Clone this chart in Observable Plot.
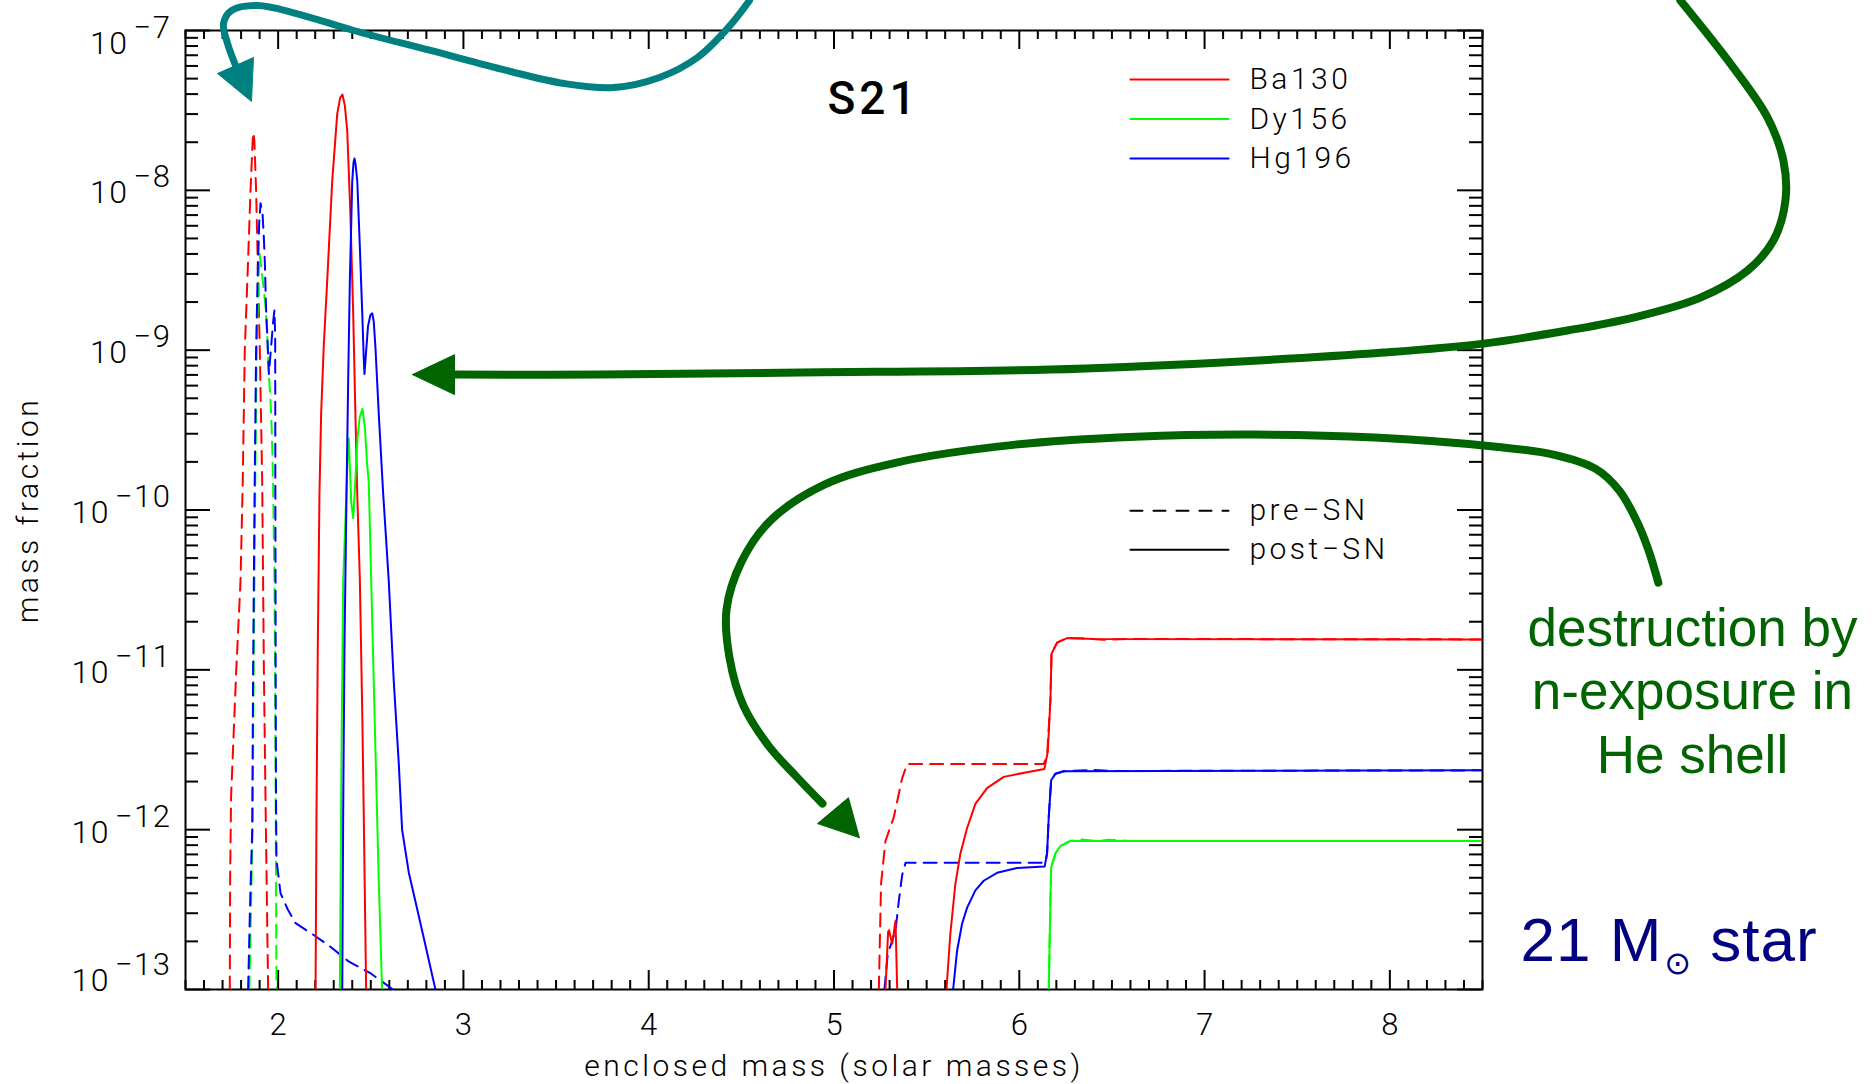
<!DOCTYPE html>
<html>
<head>
<meta charset="utf-8">
<script src="https://cdn.jsdelivr.net/npm/d3@7"></script>
<script src="https://cdn.jsdelivr.net/npm/@observablehq/plot@0.6"></script>
<style>
  html, body { margin: 0; padding: 0; background: #ffffff; }
  #chart { width: 1873px; height: 1084px; }
  text[aria-label="axis-title"], text[aria-label="legend-text"] { letter-spacing: 3.5px; }
  text[aria-label="plot-title"] { letter-spacing: 4px; }
  text[aria-label="ytl"] { letter-spacing: 1.5px; }
  text[aria-label="star-label"] { letter-spacing: 1px; }
</style>
</head>
<body>
<div id="chart"></div>
<script>
// ---------------- DATA ----------------
const xMajorTicks = [2, 3, 4, 5, 6, 7, 8];
const yExponents = [-7, -8, -9, -10, -11, -12, -13];
const isotopes = ["Ba130", "Dy156", "Hg196"];
const phases = ["pre-SN", "post-SN"];

// each series: list of segments, each segment: [enclosed mass, mass fraction]
const ba130Pre = [
  [[1.739,1e-13],[1.741,5.0e-13],[1.746,1.6e-12],[1.760,4.0e-12],[1.774,1.0e-11],[1.797,3.6e-11],
   [1.809,1.5e-10],[1.820,1.0e-9],[1.836,3.2e-9],[1.851,1.0e-8],[1.862,2.0e-8],[1.867,2.3e-8],
   [1.872,2.0e-8],[1.881,1.0e-8],[1.891,3.2e-9],[1.901,1.0e-9],[1.914,1.5e-10],[1.923,1.0e-11],
   [1.934,1.0e-12],[1.946,1e-13]],
  [[5.242,1e-13],[5.254,4.6e-13],[5.278,8.5e-13],[5.323,1.2e-12],[5.368,2.1e-12],[5.395,2.58e-12],
   [6.132,2.58e-12],[6.150,2.9e-12],[6.168,6.5e-12],[6.174,1.26e-11],[6.204,1.48e-11],[6.258,1.58e-11],
   [6.35,1.57e-11],[6.45,1.54e-11],[6.60,1.56e-11],[8.5,1.55e-11]]
];
const ba130Post = [
  [[2.202,1e-13],[2.207,1.26e-12],[2.214,1.38e-11],[2.223,1.26e-10],[2.232,3.98e-10],[2.246,1.05e-9],
   [2.265,2.75e-9],[2.292,1.15e-8],[2.319,3.02e-8],[2.335,3.8e-8],[2.347,3.98e-8],[2.360,3.39e-8],
   [2.373,2.34e-8],[2.390,7.08e-9],[2.405,1.7e-9],[2.417,3.98e-10],[2.427,1.26e-10],[2.441,3.63e-11],
   [2.454,5.37e-12],[2.462,1.26e-12],[2.475,1e-13]],
  [[5.278,1e-13],[5.292,2.3e-13],[5.297,2.35e-13],[5.314,1.93e-13],[5.332,2.69e-13],[5.341,1e-13]],
  [[5.607,1e-13],[5.628,2.24e-13],[5.655,4.57e-13],[5.682,7.08e-13],[5.718,1.02e-12],[5.763,1.45e-12],
   [5.826,1.82e-12],[5.916,2.14e-12],[6.042,2.29e-12],[6.136,2.4e-12],[6.154,3.09e-12],[6.168,6.46e-12],
   [6.174,1.26e-11],[6.204,1.48e-11],[6.258,1.58e-11],[6.40,1.56e-11],[8.5,1.55e-11]]
];
const dy156Pre = [
  [[1.845,1e-13],[1.862,1e-12],[1.868,1e-11],[1.875,1e-10],[1.884,1e-9],[1.893,2.5e-9],[1.900,4.0e-9],
   [1.905,3.6e-9],[1.919,2.6e-9],[1.932,1.86e-9],[1.941,1.26e-9],[1.950,7.1e-10],[1.959,4.8e-10],
   [1.964,3.5e-10],[1.968,2.5e-10],[1.973,1.4e-10],[1.980,3.6e-11],[1.984,8.5e-12],[1.987,1.26e-12],
   [1.991,1e-13]],
  [[6.159,1e-13],[6.168,3.6e-13],[6.172,5.8e-13],[6.195,7.1e-13],[6.222,7.9e-13],[6.276,8.5e-13],
   [6.33,8.7e-13],[6.42,8.5e-13],[6.48,8.65e-13],[6.60,8.5e-13],[8.5,8.5e-13]]
];
const dy156Post = [
  [[2.333,1e-13],[2.338,6.3e-13],[2.342,3.2e-12],[2.351,3.6e-11],[2.368,1.26e-10],[2.377,2.5e-10],
   [2.381,2.8e-10],[2.386,2.0e-10],[2.395,1.1e-10],[2.405,8.9e-11],[2.415,1.4e-10],[2.428,2.8e-10],
   [2.440,3.8e-10],[2.455,4.3e-10],[2.468,3.3e-10],[2.480,1.95e-10],[2.489,1.5e-10],[2.507,2.2e-11],
   [2.525,3.2e-12],[2.543,4.8e-13],[2.561,1e-13]],
  [[6.159,1e-13],[6.168,3.6e-13],[6.172,5.8e-13],[6.195,7.1e-13],[6.222,7.9e-13],[6.276,8.5e-13],[8.5,8.5e-13]]
];
const hg196Pre = [
  [[1.838,1e-13],[1.848,3.2e-13],[1.860,1e-12],[1.865,1e-11],[1.872,1e-10],[1.881,1e-9],[1.890,3.2e-9],
   [1.898,6.3e-9],[1.905,8.3e-9],[1.916,7.1e-9],[1.923,5.0e-9],[1.928,3.6e-9],[1.935,1.8e-9],
   [1.941,1.26e-9],[1.950,7.1e-10],[1.962,1.05e-9],[1.973,1.5e-9],[1.980,1.78e-9],[1.984,1.26e-9],
   [1.985,1.26e-10],[1.986,3.6e-11],[1.987,5.4e-12],[1.989,1.26e-12],[1.991,6.5e-13],[2.013,4.0e-13],
   [2.05,3.2e-13],[2.094,2.6e-13],[2.19,2.2e-13],[2.28,1.86e-13],[2.38,1.5e-13],[2.50,1.26e-13],[2.62,1e-13]],
  [[5.272,1e-13],[5.290,1.66e-13],[5.332,2.34e-13],[5.350,3.6e-13],[5.368,5.2e-13],[5.386,6.2e-13],
   [6.141,6.2e-13],[6.150,7.1e-13],[6.159,1.2e-12],[6.172,2.04e-12],[6.195,2.24e-12],[6.24,2.32e-12],
   [6.40,2.36e-12],[6.50,2.33e-12],[8.5,2.35e-12]]
];
const hg196Post = [
  [[2.346,1e-13],[2.351,1.26e-12],[2.358,1.38e-11],[2.369,1.26e-10],[2.378,6.5e-10],[2.387,2.75e-9],
   [2.400,1.15e-8],[2.407,1.5e-8],[2.412,1.58e-8],[2.418,1.45e-8],[2.427,1.15e-8],[2.441,4.4e-9],
   [2.454,1.7e-9],[2.462,8.9e-10],[2.466,7.1e-10],[2.472,8.9e-10],[2.485,1.41e-9],[2.498,1.66e-9],
   [2.508,1.7e-9],[2.516,1.51e-9],[2.525,1.05e-9],[2.543,4.0e-10],[2.567,1.26e-10],[2.597,3.6e-11],
   [2.624,8.5e-12],[2.651,2.6e-12],[2.669,1.0e-12],[2.705,5.4e-13],[2.768,2.6e-13],[2.849,1e-13]],
  [[5.643,1e-13],[5.664,1.74e-13],[5.691,2.57e-13],[5.718,3.24e-13],[5.763,4.17e-13],[5.808,4.79e-13],
   [5.880,5.37e-13],[5.988,5.75e-13],[6.137,5.89e-13],[6.150,7.1e-13],[6.159,1.2e-12],[6.172,2.04e-12],
   [6.195,2.24e-12],[6.24,2.32e-12],[8.5,2.35e-12]]
];

// annotation paths, in data units: [enclosed mass, log10 mass fraction]
const tealArrowPath = [[4.544,-6.812],[4.430,-6.981],[4.263,-7.169],[4.058,-7.294],[3.810,-7.357],[3.545,-7.332],
  [3.232,-7.250],[2.822,-7.125],[2.407,-7.000],[2.099,-6.894],[1.889,-6.844],[1.748,-6.875],[1.705,-6.956],
  [1.727,-7.081],[1.775,-7.232]];
const tealArrowHead = [[1.673,-7.269],[1.867,-7.169],[1.856,-7.444],[1.673,-7.269]];
const greenArrowPath1 = [[9.568,-6.812],[9.854,-7.232],[10.038,-7.544],[10.124,-7.814],[10.135,-8.064],
  [10.070,-8.314],[9.930,-8.502],[9.676,-8.671],[9.314,-8.796],[8.958,-8.877],[8.505,-8.959],[7.966,-9.015],
  [7.069,-9.078],[6.168,-9.121],[4.819,-9.140],[3.740,-9.153],[2.952,-9.153]];
const greenArrowHead1 = [[2.725,-9.153],[2.952,-9.028],[2.952,-9.278],[2.725,-9.153]];
const greenArrowPath2 = [[9.449,-10.454],[9.395,-10.248],[9.331,-10.066],[9.239,-9.879],[9.109,-9.741],
  [8.883,-9.653],[8.559,-9.603],[7.917,-9.547],[7.269,-9.528],[6.627,-9.541],[5.979,-9.591],[5.337,-9.703],
  [4.948,-9.841],[4.657,-10.066],[4.501,-10.323],[4.420,-10.623],[4.436,-10.924],[4.511,-11.224],
  [4.646,-11.474],[4.792,-11.662],[4.938,-11.837]];
const greenArrowHead2 = [[5.137,-12.050],[4.911,-11.962],[5.078,-11.800],[5.137,-12.050]];

// ---------------- STYLE / LAYOUT ----------------
const colors = {Ba130: "#ff0000", Dy156: "#00ff00", Hg196: "#0000ff"};
const W = 1873, H = 1084;
const M = {left: 185, right: 391, top: 30, bottom: 95};
const FW = W - M.left - M.right, FH = H - M.top - M.bottom;
const FONT = "Roboto, 'Liberation Sans', Arial, sans-serif";
const DASH = "13,8";

const seriesList = [
  {iso: "Ba130", pre: ba130Pre, post: ba130Post},
  {iso: "Dy156", pre: dy156Pre, post: dy156Post},
  {iso: "Hg196", pre: hg196Pre, post: hg196Post}
];
const toRows = segs => segs.flatMap((seg, i) => seg.map(([x, v]) => ({x, v, seg: i})));
const logPts = pts => pts.map(([x, l]) => ({x, v: Math.pow(10, l)}));
const tag = name => () => name;   // per-element aria-label, used for styling/post-processing

const yMajorVals = yExponents.map(e => Math.pow(10, e));
const yMinorVals = d3.range(-13, -7).flatMap(e => d3.range(2, 10).map(m => m * Math.pow(10, e)));
const xMinorVals = d3.range(15, 86).map(d => d / 10).filter(d => Math.abs(d - Math.round(d)) > 1e-9);

const tick = (o) => ({stroke: "black", strokeWidth: 2, ...o});

const dataMarks = [];
for (const s of seriesList) {
  dataMarks.push(Plot.line(toRows(s.pre), {x: "x", y: "v", z: "seg", stroke: colors[s.iso], strokeWidth: 2, strokeDasharray: DASH, clip: true}));
}
for (const s of seriesList) {
  dataMarks.push(Plot.line(toRows(s.post), {x: "x", y: "v", z: "seg", stroke: colors[s.iso], strokeWidth: 2, clip: true}));
}

// legend (placed in data coordinates inside the frame)
const legendX = [6.600, 7.129], legendTextX = 7.242;
const legendIsoY = [4.93e-8, 2.79e-8, 1.58e-8];
const legendPhaseY = [9.9e-11, 5.65e-11];
const legendMarks = [];
isotopes.forEach((iso, i) => {
  legendMarks.push(Plot.line(legendX.map(x => ({x, v: legendIsoY[i]})), {x: "x", y: "v", stroke: colors[iso], strokeWidth: 2}));
});
phases.forEach((p, i) => {
  legendMarks.push(Plot.line(legendX.map(x => ({x, v: legendPhaseY[i]})), {x: "x", y: "v", stroke: "black", strokeWidth: 2, strokeDasharray: p === "pre-SN" ? "12,11" : null}));
});
const legendLabels = [
  ...isotopes.map((iso, i) => ({x: legendTextX, v: legendIsoY[i], t: iso})),
  ...phases.map((p, i) => ({x: legendTextX, v: legendPhaseY[i], t: p.replace("-", "\u2212")}))
];

const yLabelRows = yExponents.map(e => ({v: Math.pow(10, e), t: "\u2212" + (-e), e}));
const yLab = {y: "v", text: "t", frameAnchor: "left", dx: -14, textAnchor: "end", lineAnchor: "bottom", fontSize: 32, fontWeight: 300, ariaLabel: tag("ytl")};

const plot = Plot.plot({
  width: W, height: H,
  marginLeft: M.left, marginRight: M.right, marginTop: M.top, marginBottom: M.bottom,
  x: {domain: [1.5, 8.5], axis: null},
  y: {type: "log", domain: [1e-13, 1e-7], axis: null},
  style: {fontFamily: FONT, background: "#ffffff", color: "black", overflow: "visible"},
  marks: [
    // ticks (inward, on all four sides)
    Plot.ruleY(yMajorVals, tick({insetRight: FW - 25})),
    Plot.ruleY(yMajorVals, tick({insetLeft: FW - 25})),
    Plot.ruleY(yMinorVals, tick({insetRight: FW - 13})),
    Plot.ruleY(yMinorVals, tick({insetLeft: FW - 13})),
    Plot.ruleX(xMajorTicks, tick({insetTop: FH - 19})),
    Plot.ruleX(xMajorTicks, tick({insetBottom: FH - 19})),
    Plot.ruleX(xMinorVals, tick({insetTop: FH - 9})),
    Plot.ruleX(xMinorVals, tick({insetBottom: FH - 9})),
    Plot.frame({stroke: "black", strokeWidth: 2}),

    // tick labels
    Plot.text(xMajorTicks, {x: d => d, frameAnchor: "bottom", dy: 36, text: d => String(d), fontSize: 31, fontWeight: 300, lineAnchor: "middle", textAnchor: "middle"}),
    Plot.text(yLabelRows.filter(d => d.e === -7), {...yLab, dy: 23}),
    Plot.text(yLabelRows.filter(d => d.e < -7 && d.e > -13), {...yLab, dy: 13}),
    Plot.text(yLabelRows.filter(d => d.e === -13), {...yLab, dy: 1}),

    // axis titles
    Plot.text(["enclosed mass (solar masses)"], {frameAnchor: "bottom", dy: 77, fontSize: 30, fontWeight: 300, lineAnchor: "middle", textAnchor: "middle", ariaLabel: tag("axis-title")}),
    Plot.text(["mass fraction"], {frameAnchor: "left", dx: -157, rotate: -90, fontSize: 30, fontWeight: 300, lineAnchor: "middle", textAnchor: "middle", ariaLabel: tag("axis-title")}),

    // data
    ...dataMarks,

    // legend + title
    ...legendMarks,
    Plot.text(legendLabels, {x: "x", y: "v", text: "t", textAnchor: "start", lineAnchor: "middle", fontSize: 30, fontWeight: 300, ariaLabel: tag("legend-text")}),
    Plot.text([{x: 5.213, v: 3.7e-8, t: "S21"}], {x: "x", y: "v", text: "t", fontSize: 46, fontWeight: 500, lineAnchor: "middle", textAnchor: "middle", ariaLabel: tag("plot-title")}),

    // annotations
    Plot.line(logPts(tealArrowPath), {x: "x", y: "v", stroke: "#008080", strokeWidth: 7, curve: "catmull-rom"}),
    Plot.line(logPts(tealArrowHead), {x: "x", y: "v", stroke: "#008080", fill: "#008080", strokeWidth: 1}),
    Plot.line(logPts(greenArrowPath1), {x: "x", y: "v", stroke: "#006400", strokeWidth: 8, curve: "catmull-rom"}),
    Plot.line(logPts(greenArrowHead1), {x: "x", y: "v", stroke: "#006400", fill: "#006400", strokeWidth: 1}),
    Plot.line(logPts(greenArrowPath2), {x: "x", y: "v", stroke: "#006400", strokeWidth: 8, curve: "catmull-rom"}),
    Plot.line(logPts(greenArrowHead2), {x: "x", y: "v", stroke: "#006400", fill: "#006400", strokeWidth: 1}),
    Plot.text([{x: 9.633, v: Math.pow(10, -11.643), t: "destruction by\nn-exposure in\nHe shell"}],
      {x: "x", y: "v", text: "t", fill: "#006400", fontSize: 53, lineHeight: 1.198, textAnchor: "middle", lineAnchor: "bottom", fontFamily: "'Liberation Sans', Arial, sans-serif"}),
    Plot.text([{x: 8.705, v: Math.pow(10, -12.82), t: "21 M\u2299 star"}],
      {x: "x", y: "v", text: "t", fill: "#000080", fontSize: 62, textAnchor: "start", lineAnchor: "bottom", fontFamily: "'Liberation Sans', Arial, sans-serif", ariaLabel: tag("star-label")})
  ]
});

// superscript exponents on the y tick labels
d3.select(plot).selectAll('text[aria-label="ytl"]').each(function () {
  const exp = this.textContent;
  this.textContent = "";
  const s = d3.select(this);
  s.append("tspan").text("10");
  s.append("tspan").attr("dx", 5).attr("dy", -16).attr("font-size", 31).text(exp);
});
// subscript sun symbol
d3.select(plot).selectAll('text[aria-label="star-label"]').each(function () {
  this.textContent = "";
  const s = d3.select(this);
  s.append("tspan").text("21 M");
  s.append("tspan").attr("font-size", 32).attr("dy", 13).attr("dx", 2).attr("font-family", "'DejaVu Sans', sans-serif").text("\u2299");
  s.append("tspan").attr("dy", -13).text(" star");
});

document.getElementById("chart").appendChild(plot);
</script>
</body>
</html>
